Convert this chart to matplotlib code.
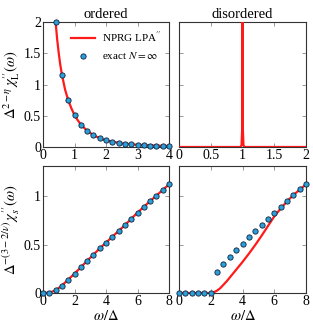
import matplotlib
matplotlib.use("Agg")
import matplotlib.pyplot as plt

plt.rcParams['font.family'] = ['Liberation Serif', 'DejaVu Serif']
plt.rcParams['mathtext.fontset'] = 'stix'

# ---- data ----
# ordered, longitudinal
ordL_pts_x = [0.4, 0.6, 0.8, 1.0, 1.2, 1.4, 1.6, 1.8, 2.0, 2.2, 2.4, 2.6, 2.8, 3.0, 3.2, 3.4, 3.6, 3.8, 4.0]
ordL_pts_y = [2.0, 1.16, 0.75, 0.51, 0.36, 0.26, 0.19, 0.14, 0.105, 0.082, 0.065, 0.052, 0.042, 0.035, 0.029, 0.024, 0.021, 0.018, 0.015]
ordL_line_x = [0.36, 0.4, 0.45, 0.5, 0.55, 0.6, 0.7, 0.8, 0.9, 1.0, 1.1, 1.2, 1.3, 1.4, 1.6, 1.8, 2.0, 2.5, 3.0, 3.5, 4.0]
ordL_line_y = [2.4, 2.0, 1.72, 1.5, 1.31, 1.16, 0.92, 0.75, 0.62, 0.51, 0.43, 0.36, 0.31, 0.26, 0.19, 0.14, 0.105, 0.058, 0.035, 0.024, 0.015]

# disordered, longitudinal (delta peak at omega = Delta)
disL_line_x = [0.0, 0.97, 0.985, 0.995, 1.0, 1.005, 1.015, 1.03, 2.0]
disL_line_y = [0.0, 0.0, 0.03, 0.3, 30.0, 0.3, 0.03, 0.0, 0.0]

# ordered, scalar
ordS_x = [0.0, 0.4, 0.8, 1.2, 1.6, 2.0, 2.4, 2.8, 3.2, 3.6, 4.0, 4.4, 4.8, 5.2, 5.6, 6.0, 6.4, 6.8, 7.2, 7.6, 8.0]
ordS_pts_y = [0.0, 0.003, 0.027, 0.077, 0.138, 0.2, 0.265, 0.332, 0.395, 0.46, 0.52, 0.58, 0.64, 0.70, 0.765, 0.83, 0.888, 0.948, 1.005, 1.063, 1.12]
ordS_line_y = [0.0, 0.003, 0.027, 0.077, 0.138, 0.2, 0.265, 0.332, 0.395, 0.46, 0.52, 0.58, 0.64, 0.70, 0.765, 0.83, 0.888, 0.948, 1.005, 1.063, 1.12]

# disordered, scalar
disS_pts_x = [0.0, 0.4, 0.8, 1.2, 1.6, 2.0, 2.4, 2.8, 3.2, 3.6, 4.0, 4.4, 4.8, 5.2, 5.6, 6.0, 6.4, 6.8, 7.2, 7.6, 8.0]
disS_pts_y = [0.0, 0.0, 0.0, 0.0, 0.0, 0.0, 0.213, 0.30, 0.373, 0.445, 0.51, 0.575, 0.64, 0.70, 0.765, 0.83, 0.89, 0.95, 1.01, 1.07, 1.12]
disS_line_x = [0.0, 2.0, 2.2, 2.4, 2.6, 2.8, 3.0, 3.2, 3.4, 3.6, 3.8, 4.0, 4.4, 4.8, 5.2, 5.6, 6.0, 6.4, 6.8, 7.2, 7.6, 8.0]
disS_line_y = [0.0, 0.0, 0.008, 0.025, 0.05, 0.085, 0.12, 0.16, 0.20, 0.24, 0.28, 0.32, 0.405, 0.495, 0.59, 0.69, 0.79, 0.87, 0.945, 1.01, 1.065, 1.12]

titles = ["ordered", "disordered"]
ylabel_top = r"$\Delta^{2-\eta}\,\chi^{\prime\prime}_{\mathrm{L}}(\omega)$"
ylabel_bot = r"$\Delta^{-(3-2/\nu)}\,\chi^{\prime\prime}_{s}(\omega)$"
xlabel = r"$\omega/\Delta$"
legend_labels = [r"NPRG LPA$^{\prime\prime}$", r"exact $N=\infty$"]

RED = '#ff1a1a'
DOT = '#2a9fd8'

fig = plt.figure(figsize=(3.13, 3.26), dpi=100)
W, H = 313, 326
def rect(l, r, t, b):
    return [l / W, 1 - b / H, (r - l) / W, (b - t) / H]

ax1 = fig.add_axes(rect(43, 169, 22, 147))
ax2 = fig.add_axes(rect(179, 306, 22, 147))
ax3 = fig.add_axes(rect(43, 169, 166, 293))
ax4 = fig.add_axes(rect(179, 306, 166, 293))

mk = dict(ls='none', marker='o', ms=3.8, mfc=DOT, mec='#10203a', mew=0.6, clip_on=False, zorder=4)
ln = dict(color=RED, lw=1.6, zorder=3)

l1, = ax1.plot(ordL_line_x, ordL_line_y, **ln)
p1, = ax1.plot(ordL_pts_x, ordL_pts_y, **mk)
ax1.set_xlim(0, 4); ax1.set_ylim(0, 2)
ax1.set_xticks([0, 1, 2, 3, 4]); ax1.set_yticks([0, 0.5, 1, 1.5, 2])
ax1.set_xticklabels(['0', '1', '2', '3', '4'])
ax1.set_yticklabels(['0', '0.5', '1', '1.5', '2'])
ax1.set_ylabel(ylabel_top, fontsize=10.5, labelpad=1)
ax1.legend([l1, p1], legend_labels, loc='upper right', frameon=False, fontsize=8,
           handlelength=2.2, borderaxespad=0.3, labelspacing=0.5, handletextpad=0.6)

ax2.plot(disL_line_x, disL_line_y, **ln)
ax2.set_xlim(0, 2); ax2.set_ylim(0, 2)
ax2.set_xticks([0, 0.5, 1, 1.5, 2]); ax2.set_xticklabels(['0', '0.5', '1', '1.5', '2'])
ax2.set_yticks([0, 0.5, 1, 1.5, 2]); ax2.set_yticklabels([])

ax3.plot(ordS_x, ordS_line_y, **ln)
ax3.plot(ordS_x, ordS_pts_y, **mk)
ax3.set_xlim(0, 8); ax3.set_ylim(0, 1.31)
ax3.set_xticks([0, 2, 4, 6, 8]); ax3.set_xticklabels(['0', '2', '4', '6', '8'])
ax3.set_yticks([0, 0.5, 1]); ax3.set_yticklabels(['0', '0.5', '1'])
ax3.set_ylabel(ylabel_bot, fontsize=10.5, labelpad=1)
ax3.set_xlabel(xlabel, fontsize=10.5)

ax4.plot(disS_line_x, disS_line_y, **ln)
ax4.plot(disS_pts_x, disS_pts_y, **mk)
ax4.set_xlim(0, 8); ax4.set_ylim(0, 1.31)
ax4.set_xticks([0, 2, 4, 6, 8]); ax4.set_xticklabels(['0', '2', '4', '6', '8'])
ax4.set_yticks([0, 0.5, 1]); ax4.set_yticklabels([])
ax4.set_xlabel(xlabel, fontsize=10.5)

ax1.set_title(titles[0], fontsize=10.5, pad=3)
ax2.set_title(titles[1], fontsize=10.5, pad=3)

for ax in (ax1, ax2, ax3, ax4):
    ax.tick_params(direction='in', top=True, right=True, length=3, width=0.6,
                   color='#888888', labelsize=10, pad=1.5)
    for s in ax.spines.values():
        s.set_color('#333333'); s.set_linewidth(0.8)

for ax in (ax3, ax4):
    ax.xaxis.set_label_coords(0.5, -0.125)

fig.savefig('out.png', dpi=100)
